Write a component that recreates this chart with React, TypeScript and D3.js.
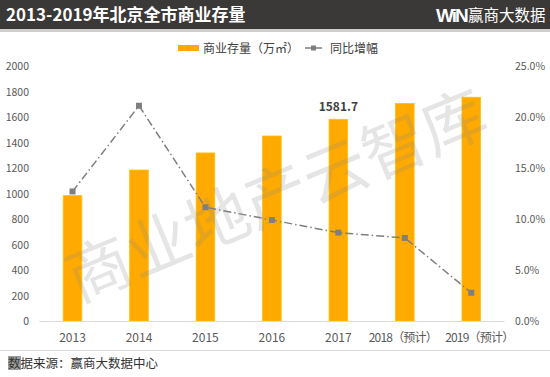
import React from "react";
import * as d3 from "d3";

const categories = ["2013", "2014", "2015", "2016", "2017", "2018（预计）", "2019（预计）"];
const stockValues = [983, 1184, 1318, 1451, 1581.7, 1706, 1755];
const growthValues = [12.7, 21.1, 11.15, 9.9, 8.66, 8.14, 2.77];
const leftTicks = [0, 200, 400, 600, 800, 1000, 1200, 1400, 1600, 1800, 2000];
const rightTicks = [0, 5, 10, 15, 20, 25];
const labeledIndex = 4;

const W = 550;
const H = 377;
const font = "'Noto Sans CJK SC', 'Noto Sans', sans-serif";

export default function App() {
  const x = d3.scaleBand<string>().domain(categories).range([39.3, 504.5]).paddingInner(0.72).paddingOuter(0.36);
  const yL = d3.scaleLinear().domain([0, 2000]).range([321, 66]);
  const yR = d3.scaleLinear().domain([0, 25]).range([321, 66]);
  const cx = (c: string) => (x(c) as number) + x.bandwidth() / 2;
  const line = d3
    .line<number>()
    .x((_, i) => cx(categories[i]))
    .y((d) => yR(d));

  return (
    <svg width={W} height={H} style={{ position: "absolute", left: 0, top: 0, background: "#fff" }}>
      <rect x={0} y={0} width={W} height={H} fill="#fff" />
      {/* header */}
      <rect x={0} y={0} width={W} height={29} fill="#3b3838" />
      <rect x={0} y={29} width={W} height={3} fill="#cfcfcf" />
      <text x={6} y={21} fill="#fff" fontFamily={font} fontWeight={700} fontSize={17}>
        2013-2019年北京全市商业存量
      </text>
      <text x={436} y={22} fill="#fff" fontFamily="'Liberation Sans', Arial, sans-serif" fontWeight={900} fontSize={19} letterSpacing={-2}>
        WiN
      </text>
      <text x={468} y={21} fill="#fff" fontFamily={font} fontSize={15.5}>
        赢商大数据
      </text>

      {/* legend */}
      <rect x={178} y={45} width={21} height={6} fill="#ffaa00" />
      <text x={203} y={53} fill="#404040" fontFamily={font} fontSize={12}>
        商业存量（万㎡）
      </text>
      <line x1={305} x2={322} y1={48} y2={48} stroke="#7f7f7f" strokeWidth={1.5} />
      <rect x={311} y={45.5} width={5} height={5} fill="#7f7f7f" />
      <text x={330} y={53} fill="#404040" fontFamily={font} fontSize={12}>
        同比增幅
      </text>

      {/* left ticks */}
      {leftTicks.map((t) => (
        <text key={"l" + t} x={29} y={yL(t) + 4} textAnchor="end" fill="#595959" fontFamily={font} fontSize={10.5}>
          {t}
        </text>
      ))}
      {rightTicks.map((t) => (
        <text key={"r" + t} x={515} y={yR(t) + 4} fill="#595959" fontFamily={font} fontSize={10.5}>
          {t.toFixed(1)}%
        </text>
      ))}

      {/* bars */}
      {stockValues.map((v, i) => (
        <rect
          key={"b" + i}
          x={x(categories[i])}
          y={yL(v)}
          width={x.bandwidth()}
          height={yL(0) - yL(v)}
          fill="#ffaa00"
          stroke="#ffc000"
          strokeWidth={0.8}
        />
      ))}
      <line x1={39.3} x2={504.5} y1={321.5} y2={321.5} stroke="#d9d9d9" strokeWidth={1} />

      {/* data label */}
      <text
        x={cx(categories[labeledIndex])}
        y={yL(stockValues[labeledIndex]) - 8}
        textAnchor="middle"
        fill="#404040"
        fontFamily={font}
        fontWeight={700}
        fontSize={12}
      >
        {stockValues[labeledIndex]}
      </text>

      {/* line */}
      <path d={line(growthValues) || ""} fill="none" stroke="#7f7f7f" strokeWidth={1.5} strokeDasharray="8 3 1.5 3" />
      {growthValues.map((v, i) => (
        <rect key={"m" + i} x={cx(categories[i]) - 3} y={yR(v) - 3} width={6} height={6} fill="#7f7f7f" />
      ))}

      {/* watermark */}
      <text
        x={0}
        y={0}
        transform="translate(285,217) rotate(-22.5)"
        textAnchor="middle"
        fill="#888"
        fillOpacity={0.22}
        fontFamily="'Noto Sans CJK SC', serif"
        fontSize={64}
      >
        商业地产云智库
      </text>

      {/* x labels */}
      {categories.map((c, i) => (
        <text
          key={"x" + c}
          x={cx(c)}
          dx={i === categories.length - 1 ? 8 : i === categories.length - 2 ? -2 : 0}
          y={342}
          textAnchor="middle"
          fill="#595959"
          fontFamily={font}
          fontSize={12}
          letterSpacing={c.length > 4 ? -0.8 : 0}
        >
          {c}
        </text>
      ))}

      {/* footer */}
      <line x1={0} x2={W} y1={350.5} y2={350.5} stroke="#d9d9d9" strokeWidth={1} />
      <rect x={8} y={356} width={13} height={14} fill="#9e9e9e" />
      <text x={8} y={368} fill="#333" fontFamily={font} fontSize={12.5}>
        数据来源：赢商大数据中心
      </text>
    </svg>
  );
}
